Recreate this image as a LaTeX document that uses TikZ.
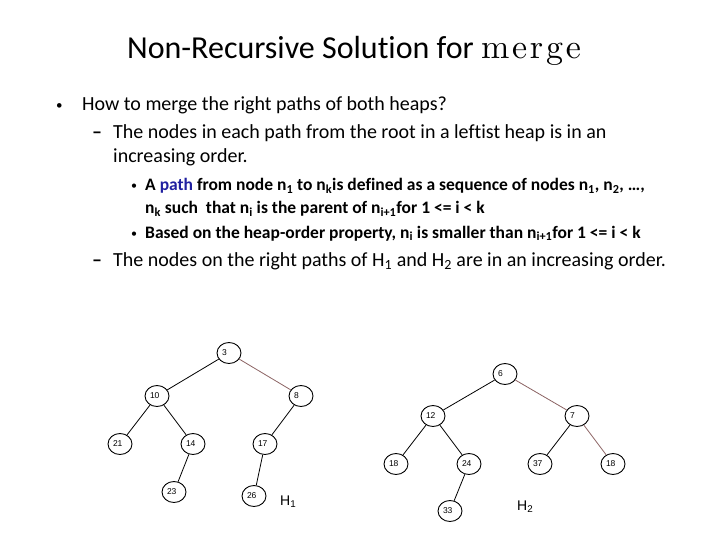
\documentclass[tikz,border=0pt]{standalone}
\usepackage{fontspec}
\setmainfont{Carlito}[Ligatures=NoCommon]
\newfontfamily\lmr{lmroman10-regular.otf}[LetterSpace=8]
\newfontfamily\arialf{Liberation Sans}
\usetikzlibrary{shapes.geometric}
\definecolor{pathblue}{RGB}{32,32,160}
\definecolor{edgebrown}{RGB}{140,100,100}
\newcommand\sbs[1]{\textsubscript{#1}}
\tikzset{
  txt/.style={anchor=base west, inner sep=0pt, font=\fontsize{20}{24}\selectfont},
  subtxt/.style={anchor=base west, inner sep=0pt, font=\bfseries\fontsize{17.5}{21}\selectfont},
  bul/.style={anchor=base west, inner sep=0pt, font=\fontsize{13}{16}\selectfont},
  hn/.style={ellipse, draw, line width=0.9pt, minimum width=24pt, minimum height=21pt,
    inner sep=0pt, text width=14pt, align=left, font=\arialf\fontsize{8.5}{9}\selectfont},
  edg/.style={line width=0.8pt},
  redg/.style={edg, draw=edgebrown},
  hlab/.style={anchor=base west, inner sep=0pt, font=\arialf\fontsize{14}{16}\selectfont}
}
\begin{document}
\begin{tikzpicture}[x=1pt,y=-1pt]
\useasboundingbox (0,0) rectangle (720,540);
% title
\node[anchor=base, inner sep=0pt, font=\fontsize{32}{38}\selectfont] (title) at (354,59)
  {Non-Recursive Solution for {\lmr\fontsize{34}{38}\selectfont merge}};
% level 1
\node[bul] (b1) at (56,110) {•};
\node[txt] (l1) at (82,111) {How to merge the right paths of both heaps?};
% level 2
\node[txt, font=\bfseries\fontsize{20}{24}\selectfont] (d1) at (92,139) {–};
\node[txt] (l2a) at (113,139) {The nodes in each path from the root in a leftist heap is in an};
\node[txt] (l2b) at (113,163) {increasing order.};
% level 3
\node[bul, font=\fontsize{12}{14}\selectfont] (sb1) at (131,190) {•};
\node[subtxt] (s1a) at (145,191) {A \textcolor{pathblue}{path} from node n\sbs{1} to n\sbs{k}is defined as a sequence of nodes n\sbs{1}, n\sbs{2}, …,};
\node[subtxt] (s1b) at (145,214) {n\sbs{k} such\ \ that n\sbs{i} is the parent of n\sbs{i+1}for 1 <= i < k};
\node[bul, font=\fontsize{12}{14}\selectfont] (sb2) at (131,237) {•};
\node[subtxt] (s2) at (145,238) {Based on the heap-order property, n\sbs{i} is smaller than n\sbs{i+1}for 1 <= i < k};
% level 2 again
\node[txt, font=\bfseries\fontsize{20}{24}\selectfont] (d2) at (92,266) {–};
\node[txt] (l3) at (113,266) {The nodes on the right paths of H\sbs{1} and H\sbs{2} are in an increasing order.};
% H1
\node[hn] (a3)  at (229,353) {3};
\node[hn] (a10) at (157,396) {10};
\node[hn] (a8)  at (301,396) {8};
\node[hn] (a21) at (120,444) {21};
\node[hn] (a14) at (193,444) {14};
\node[hn] (a17) at (265,444) {17};
\node[hn] (a23) at (174,492) {23};
\node[hn] (a26) at (254,496) {26};
\node[hlab] (h1) at (280,505) {H\sbs{1}};
\draw[edg] (a3) -- (a10);
\draw[redg] (a3) -- (a8);
\draw[edg] (a10) -- (a21);
\draw[edg] (a10) -- (a14);
\draw[edg] (a14) -- (a23);
\draw[edg] (a8) -- (a17);
\draw[edg] (a17) -- (a26);
% H2
\node[hn] (b6)  at (505,374) {6};
\node[hn] (b12) at (433,416) {12};
\node[hn] (b7)  at (577,416) {7};
\node[hn] (b18) at (396,464) {18};
\node[hn] (b24) at (469,464) {24};
\node[hn] (b37) at (540,464) {37};
\node[hn] (c18) at (613,464) {18};
\node[hn] (b33) at (450,511) {33};
\node[hlab] (h2) at (517,510) {H\sbs{2}};
\draw[edg] (b6) -- (b12);
\draw[redg] (b6) -- (b7);
\draw[edg] (b12) -- (b18);
\draw[edg] (b12) -- (b24);
\draw[edg] (b24) -- (b33);
\draw[edg] (b7) -- (b37);
\draw[redg] (b7) -- (c18);
\end{tikzpicture}
\end{document}
